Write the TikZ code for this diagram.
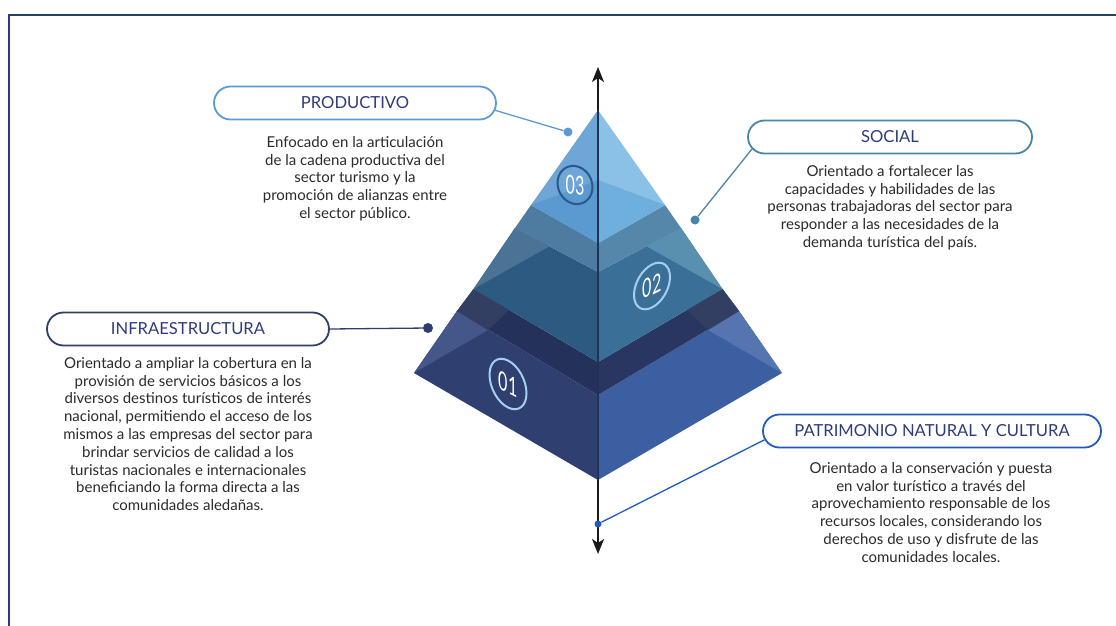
\documentclass[tikz,border=0pt]{standalone}
\usepackage{fontspec}
\setmainfont{Lato}
\usetikzlibrary{shapes.misc,arrows.meta}
\definecolor{bordernavy}{HTML}{2B3F6B}
\definecolor{prodblue}{HTML}{5B9BD5}
\definecolor{socblue}{HTML}{4B84AA}
\definecolor{infranavy}{HTML}{2E3F6E}
\definecolor{patblue}{HTML}{2159BF}
\definecolor{headtext}{HTML}{2D3B7C}
\definecolor{bodytext}{HTML}{2A2A2A}
\definecolor{axisblack}{HTML}{1A1A1A}
\definecolor{midline}{HTML}{1E3356}
% pyramid colours
\definecolor{tAL}{HTML}{2F3F70}
\definecolor{tALl}{HTML}{45568A}
\definecolor{tAR}{HTML}{3B5FA0}
\definecolor{tARl}{HTML}{5574B0}
\definecolor{tATL}{HTML}{24315A}
\definecolor{tATR}{HTML}{283661}
\definecolor{tATLl}{HTML}{333F62}
\definecolor{tATRl}{HTML}{323F63}
\definecolor{tBL}{HTML}{2C5A80}
\definecolor{tBLl}{HTML}{4A7395}
\definecolor{tBR}{HTML}{3A7097}
\definecolor{tBRl}{HTML}{5990B0}
\definecolor{tBTL}{HTML}{4D7CA0}
\definecolor{tBTR}{HTML}{5487AA}
\definecolor{tCL}{HTML}{6EA6D8}
\definecolor{tCR}{HTML}{8CC1E7}
\definecolor{tCLd}{HTML}{5A9AD0}
\definecolor{tCRd}{HTML}{6FAFDD}
\definecolor{ringdark}{HTML}{2A5888}
\definecolor{ringlight}{HTML}{A5CFEF}
\begin{document}
\begin{tikzpicture}[x=1pt,y=-1pt,
  pill/.style={rounded rectangle, draw, line width=1.8pt, minimum width=#1,
    minimum height=33pt, inner sep=0pt, text=headtext,
    font=\fontsize{16.6}{18}\selectfont},
  body/.style={align=center, anchor=north, inner sep=0pt, text=bodytext,
    font=\fontsize{15}{17.8}\selectfont},
  dot/.style={circle, inner sep=0pt, minimum size=#1},
  numtext/.style={text=white, inner sep=0pt, font=\fontsize{26}{26}\selectfont, transform shape},
  ring/.style={line width=2pt},
  link/.style={line width=1.3pt}
]
\useasboundingbox (0,0) rectangle (1116,626);
\draw[bordernavy, line width=2pt] (9,640) -- (9,15) -- (1130,15);

% axis
\coordinate (axtop) at (598,67);
\coordinate (axbot) at (598,554);
\draw[axisblack, line width=1.8pt, {Stealth[length=15pt,width=12pt,inset=4pt]}-{Stealth[length=15pt,width=12pt,inset=4pt]}] (axbot) -- (axtop);

% coordinates
\coordinate (L) at (414,373);  \coordinate (F) at (598,480);  \coordinate (R) at (782,373);
\coordinate (Lt) at (457,311); \coordinate (Ft) at (598,395); \coordinate (Rt) at (739,311);
\coordinate (P) at (488,330);  \coordinate (Q) at (708,330);
\coordinate (S) at (510,309);  \coordinate (Sr) at (686,309);
\coordinate (L2) at (473.5,289); \coordinate (F2) at (598,362); \coordinate (R2) at (722.5,289);
\coordinate (L2t) at (515,228); \coordinate (F2t) at (598,272); \coordinate (R2t) at (681,228);
\coordinate (P2) at (550,246); \coordinate (Q2) at (646,246);
\coordinate (A) at (598,110); \coordinate (L3) at (531,205); \coordinate (F3) at (598,243);
\coordinate (R3) at (665,205); \coordinate (M3) at (598,180);

% tier 1
\fill[tAL] (L) -- (F) -- (Ft) -- (Lt) -- cycle;
\fill[tALl] (L) -- (Lt) -- (P) -- cycle;
\fill[tAR] (F) -- (R) -- (Rt) -- (Ft) -- cycle;
\fill[tARl] (R) -- (Rt) -- (Q) -- cycle;
\fill[tATL] (Lt) -- (L2) -- (F2) -- (Ft) -- cycle;
\fill[tATR] (F2) -- (R2) -- (Rt) -- (Ft) -- cycle;
\fill[tATLl] (Lt) -- (L2) -- (S) -- (P) -- cycle;
\fill[tATRl] (Rt) -- (R2) -- (Sr) -- (Q) -- cycle;
% tier 2
\fill[tBL] (L2) -- (F2) -- (F2t) -- (L2t) -- cycle;
\fill[tBLl] (L2) -- (L2t) -- (P2) -- cycle;
\fill[tBR] (F2) -- (R2) -- (R2t) -- (F2t) -- cycle;
\fill[tBRl] (R2) -- (R2t) -- (Q2) -- cycle;
\fill[tBTL] (L2t) -- (L3) -- (F3) -- (F2t) -- cycle;
\fill[tBTR] (F3) -- (R3) -- (R2t) -- (F2t) -- cycle;
% tier 3
\fill[tCL] (A) -- (L3) -- (F3) -- cycle;
\fill[tCR] (A) -- (F3) -- (R3) -- cycle;
\fill[tCLd] (L3) -- (M3) -- (F3) -- cycle;
\fill[tCRd] (M3) -- (R3) -- (F3) -- cycle;
\draw[midline, line width=1.1pt] (A) -- (F);

% numbered rings
\begin{scope}[shift={(575,185)}, yslant=-0.12]
  \draw[ring, ringdark] (0,0) ellipse [x radius=17.5, y radius=19];
  \node[numtext, xscale=0.62] (n03) at (0,0) {03};
\end{scope}
\begin{scope}[shift={(652,286)}, yslant=0.5]
  \draw[ring, ringlight] (0,0) ellipse [x radius=18, y radius=21.5];
  \node[numtext, xscale=0.62] (n02) at (0,0) {02};
\end{scope}
\begin{scope}[shift={(508,384)}, yslant=-0.5]
  \draw[ring, ringlight] (0,0) ellipse [x radius=18.5, y radius=23.5];
  \node[numtext, xscale=0.62] (n01) at (0,0) {01};
\end{scope}

% labels
\node[pill=282, draw=prodblue] (prodpill) at (355,103) {PRODUCTIVO};
\node[pill=284, draw=socblue] (socpill) at (890,137) {SOCIAL};
\node[pill=282, draw=infranavy] (infrapill) at (188,329) {INFRAESTRUCTURA};
\node[pill=338, draw=patblue] (patpill) at (932,431) {PATRIMONIO NATURAL Y CULTURA};

% dots and links
\node[dot=9pt, fill=prodblue] (pdot) at (568,132) {};
\node[dot=9pt, fill=socblue] (sdot) at (695,220) {};
\node[dot=10pt, fill=infranavy] (idot) at (428,328) {};
\node[dot=7pt, fill=patblue] (patdot) at (598,524) {};
\draw[link, prodblue] (prodpill.-3) -- (pdot);
\draw[link, socblue] (socpill.185) -- (sdot);
\draw[link, infranavy] (infrapill.east) -- (idot);
\draw[link, patblue] (patpill.183) -- (patdot);

% body texts
\node[body] (prodtxt) at (355,136) {Enfocado en la articulación\\de la cadena productiva del\\sector turismo y la\\promoción de alianzas entre\\el sector público.};
\node[body] (soctxt) at (890,165) {Orientado a fortalecer las\\capacidades y habilidades de las\\personas trabajadoras del sector para\\responder a las necesidades de la\\demanda turística del país.};
\node[body] (infratxt) at (188,357) {Orientado a ampliar la cobertura en la\\provisión de servicios básicos a los\\diversos destinos turísticos de interés\\nacional, permitiendo el acceso de los\\mismos a las empresas del sector para\\brindar servicios de calidad a los\\turistas nacionales e internacionales\\beneficiando la forma directa a las\\comunidades aledañas.};
\node[body] (pattxt) at (931,462) {Orientado a la conservación y puesta\\en valor turístico a través del\\aprovechamiento responsable de los\\recursos locales, considerando los\\derechos de uso y disfrute de las\\comunidades locales.};
\end{tikzpicture}
\end{document}
